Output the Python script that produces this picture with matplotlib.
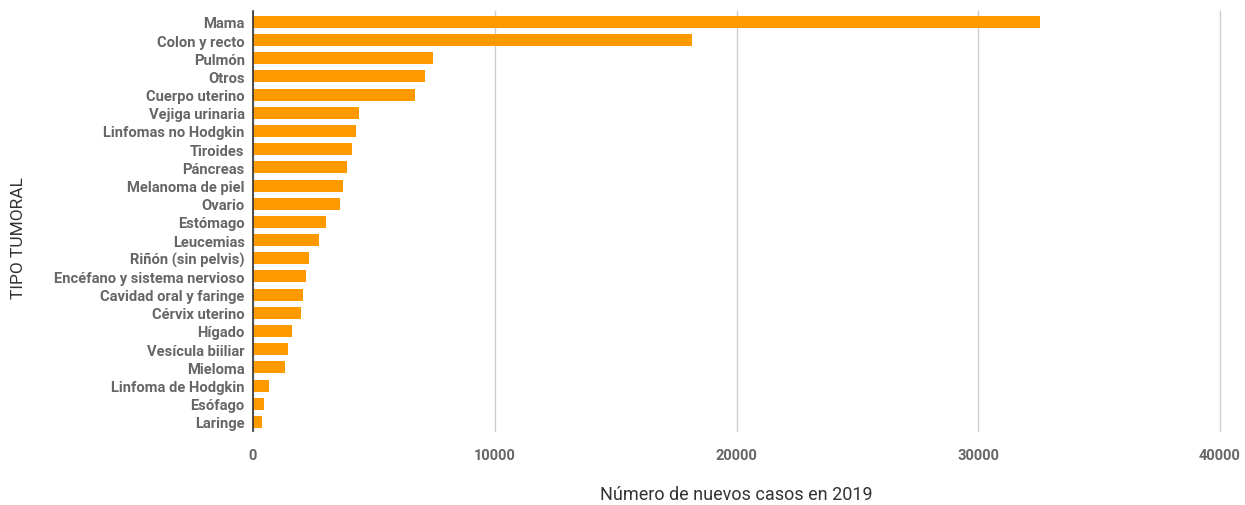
import numpy as np
import matplotlib.pyplot as plt
import matplotlib as mpl

mpl.rcParams['font.family'] = ['Roboto', 'DejaVu Sans']

tipos = ['Mama', 'Colon y recto', 'Pulmón', 'Otros', 'Cuerpo uterino',
         'Vejiga urinaria', 'Linfomas no Hodgkin', 'Tiroides', 'Páncreas',
         'Melanoma de piel', 'Ovario', 'Estómago', 'Leucemias',
         'Riñón (sin pelvis)', 'Encéfano y sistema nervioso',
         'Cavidad oral y faringe', 'Cérvix uterino', 'Hígado',
         'Vesícula biiliar', 'Mieloma', 'Linfoma de Hodgkin', 'Esófago',
         'Laringe']
casos = [32550, 18160, 7440, 7135, 6710,
         4395, 4260, 4075, 3900,
         3705, 3580, 3030, 2730,
         2300, 2175,
         2050, 1995, 1625,
         1430, 1305, 645, 455,
         385]
xticks = [0, 10000, 20000, 30000, 40000]

fig = plt.figure(figsize=(12.45, 5.06), dpi=100)
ax = fig.add_axes([253/1245, 1-432/506, (1220-253)/1245, (432-12)/506])

ypos = np.arange(len(tipos))
ax.barh(ypos, casos, height=0.66, color='#ff9900', zorder=3)

ax.set_ylim(len(tipos)-0.5, -0.6)
ax.set_xlim(0, 40000)
ax.set_yticks(ypos)
ax.set_yticklabels(tipos, fontsize=10.6, fontweight='bold', color='#666666')
ax.set_xticks(xticks)
ax.set_xticklabels([str(t) for t in xticks], fontsize=10.5, fontweight='bold', color='#666666')
ax.tick_params(axis='y', length=0, pad=6)
ax.tick_params(axis='x', length=0, pad=12)

ax.grid(axis='x', color='#cccccc', lw=1, zorder=0)
for gl in ax.get_xgridlines():
    gl.set_clip_on(False)
for s in ['top', 'right', 'bottom']:
    ax.spines[s].set_visible(False)
ax.spines['left'].set_color('#333333')
ax.spines['left'].set_linewidth(1.2)
ax.spines['left'].set_zorder(4)

ax.set_xlabel('Número de nuevos casos en 2019', fontsize=13, color='#333333')
ax.xaxis.set_label_coords(0.5, (432-486)/420)
ax.set_ylabel('TIPO TUMORAL', fontsize=12.5, color='#333333')
ax.yaxis.set_label_coords((26-253)/967, (432-238)/420)

fig.savefig('out.png', dpi=100)
